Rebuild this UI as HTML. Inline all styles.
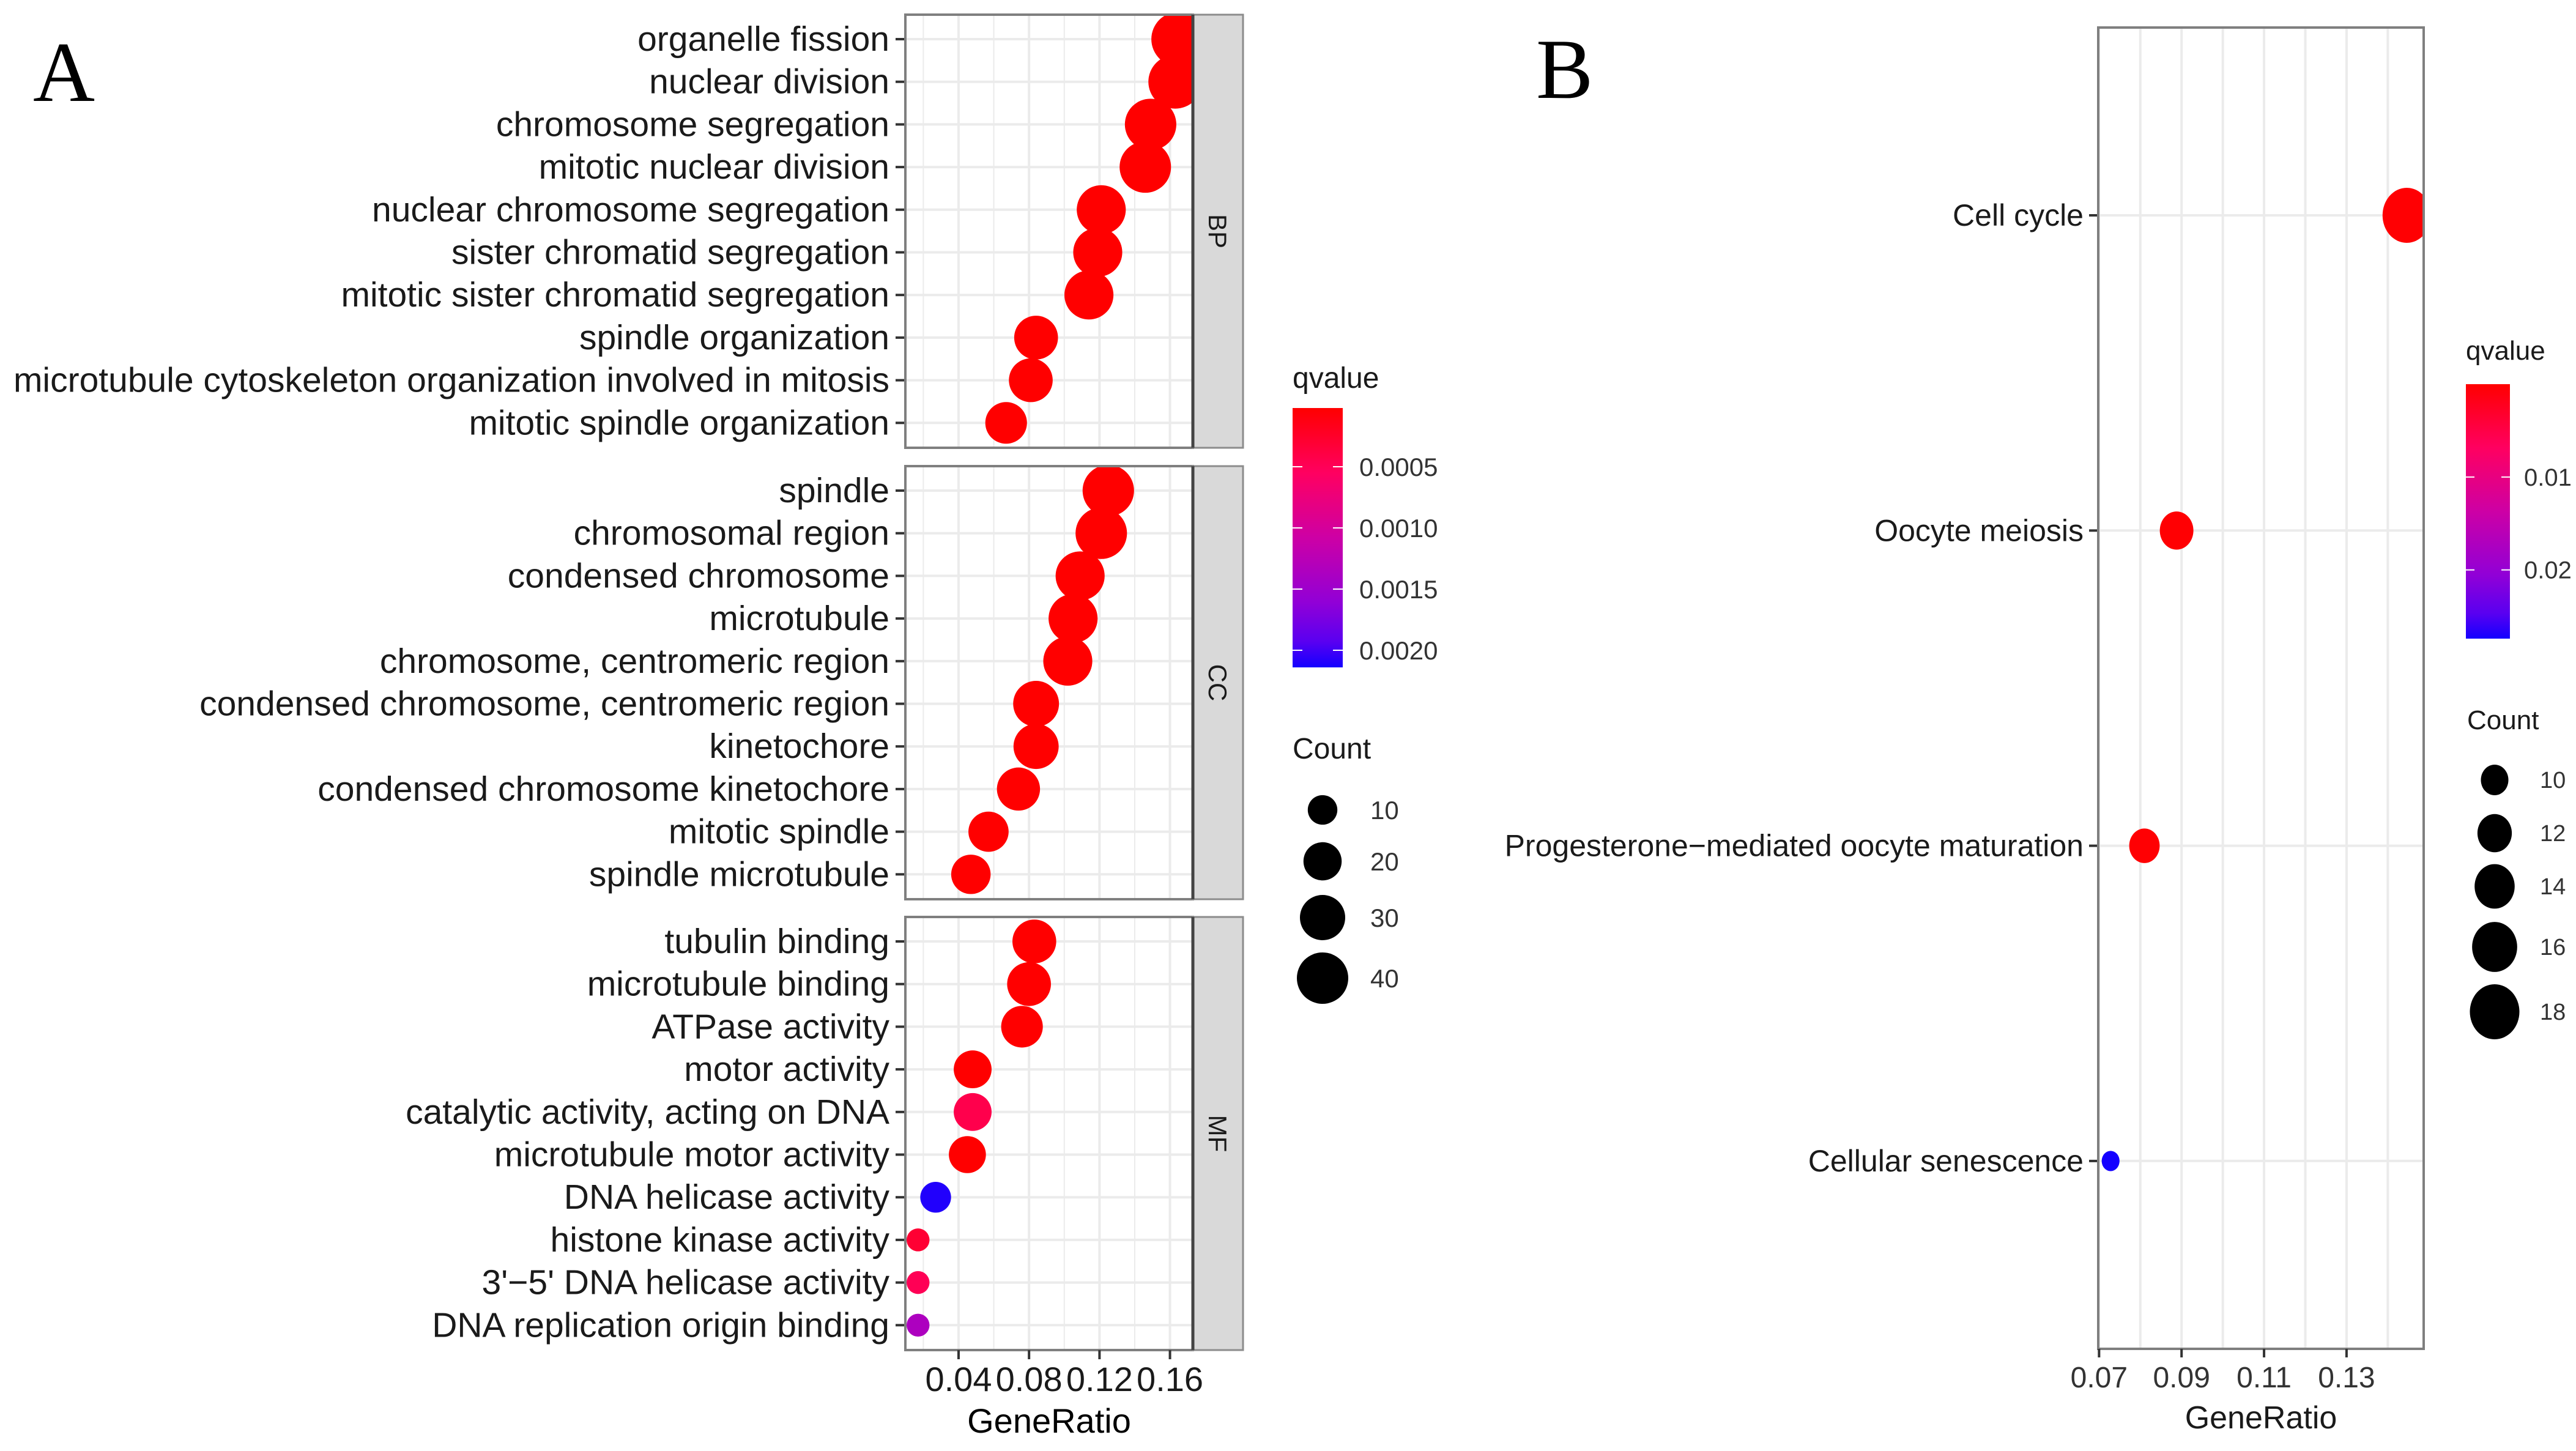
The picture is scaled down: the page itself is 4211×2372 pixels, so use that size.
<!DOCTYPE html>
<html><head><meta charset="utf-8"><style>
html,body{margin:0;padding:0;background:#fff;}
svg{display:block;font-family:"Liberation Sans",Arial,sans-serif;}
</style></head><body>
<svg id="chart" width="4211" height="2372" viewBox="0 0 4211 2372" xmlns="http://www.w3.org/2000/svg">
<defs>
<linearGradient id="gradA" x1="0" y1="0" x2="0" y2="1"></linearGradient>
<linearGradient id="gradB" x1="0" y1="0" x2="0" y2="1"></linearGradient>
</defs>
<text x="54" y="165" font-family="Liberation Serif,serif" font-size="140" fill="#000">A</text>
<text x="2511" y="160" font-family="Liberation Serif,serif" font-size="140" fill="#000">B</text>
<g id="gA"></g>
<g id="gB"></g>
</svg>
<script>
// ---------- Panel A data ----------
const bpTerms = ["organelle fission","nuclear division","chromosome segregation","mitotic nuclear division","nuclear chromosome segregation","sister chromatid segregation","mitotic sister chromatid segregation","spindle organization","microtubule cytoskeleton organization involved in mitosis","mitotic spindle organization"];
const bpRatio = [0.165,0.163,0.149,0.146,0.121,0.119,0.114,0.084,0.081,0.067];
const bpCount = [44,42,38,38,34,34,34,26,26,23];
const bpQ = [0.00002,0.00002,0.00002,0.00002,0.00002,0.00002,0.00002,0.00002,0.00002,0.00002];

const ccTerms = ["spindle","chromosomal region","condensed chromosome","microtubule","chromosome, centromeric region","condensed chromosome, centromeric region","kinetochore","condensed chromosome kinetochore","mitotic spindle","spindle microtubule"];
const ccRatio = [0.125,0.121,0.109,0.105,0.102,0.084,0.084,0.074,0.057,0.047];
const ccCount = [38,38,34,34,34,29,28,25,21,20];
const ccQ = [0.00002,0.00002,0.00002,0.00002,0.00002,0.00002,0.00002,0.00002,0.00002,0.00002];

const mfTerms = ["tubulin binding","microtubule binding","ATPase activity","motor activity","catalytic activity, acting on DNA","microtubule motor activity","DNA helicase activity","histone kinase activity","3'\u22125' DNA helicase activity","DNA replication origin binding"];
const mfRatio = [0.083,0.080,0.076,0.048,0.048,0.045,0.027,0.017,0.017,0.017];
const mfCount = [26,26,23,18,18,17,10,3,3,3];
const mfQ = [0.00002,0.00002,0.00002,0.00002,0.00044,0.00002,0.0021,0.0003,0.00049,0.00136];

const aXTicks = [0.04,0.08,0.12,0.16];
const aXTickLabels = ["0.04","0.08","0.12","0.16"];
const aQTicks = [0.0005,0.0010,0.0015,0.0020];
const aQTickLabels = ["0.0005","0.0010","0.0015","0.0020"];
const aCountLegend = [10,20,30,40];

// ---------- Panel B data ----------
const bTerms = ["Cell cycle","Oocyte meiosis","Progesterone\u2212mediated oocyte maturation","Cellular senescence"];
const bRatio = [0.1446,0.0888,0.081,0.0728];
const bCount = [18,12,11,8];
const bQ = [0.0002,0.0002,0.0002,0.0274];
const bXTicks = [0.07,0.09,0.11,0.13];
const bXTickLabels = ["0.07","0.09","0.11","0.13"];
const bQTicks = [0.01,0.02];
const bQTickLabels = ["0.01","0.02"];
const bCountLegend = [10,12,14,16,18];

const NS = "http://www.w3.org/2000/svg";
function mk(parent, tag, attrs, text){
  const e = document.createElementNS(NS, tag);
  for (const k in attrs) e.setAttribute(k, attrs[k]);
  if (text !== undefined) e.textContent = text;
  parent.appendChild(e);
  return e;
}
const cStops = [[0,255,0,0],[0.25,255,0,96],[0.5,205,0,165],[0.75,145,0,215],[0.9,90,0,240],[1,20,0,255]];
function qColor(t){
  t = Math.max(0, Math.min(1, t));
  for (let i=1;i<cStops.length;i++){
    const a = cStops[i-1], b = cStops[i];
    if (t <= b[0]){
      const f = (t - a[0])/(b[0]-a[0]);
      const r = Math.round(a[1]+(b[1]-a[1])*f), g = Math.round(a[2]+(b[2]-a[2])*f), bl = Math.round(a[3]+(b[3]-a[3])*f);
      return "rgb("+r+","+g+","+bl+")";
    }
  }
  return "rgb(20,0,255)";
}
function fillGrad(id){
  const g = document.getElementById(id);
  for (let i=0;i<=20;i++){
    mk(g,"stop",{offset:(i*5)+"%","stop-color":qColor(i/20)});
  }
}
fillGrad("gradA"); fillGrad("gradB");

// ---------- Panel A ----------
const gA = document.getElementById("gA");
const aX0 = 1480, aX1 = 1950, aDMin = 0.0098, aDMax = 0.173;
function ax(v){ return aX0 + (v - aDMin)/(aDMax - aDMin)*(aX1 - aX0); }
const aQMin = 0.00002, aQMax = 0.00214;
function aColor(q){ return qColor((q - aQMin)/(aQMax - aQMin)); }
function aR(c){ return Math.sqrt(229 + 40.5*c); }
const panels = [
  {name:"bp", strip:"BP", top:24, terms:bpTerms, ratio:bpRatio, count:bpCount, q:bpQ},
  {name:"cc", strip:"CC", top:762, terms:ccTerms, ratio:ccRatio, count:ccCount, q:ccQ},
  {name:"mf", strip:"MF", top:1499, terms:mfTerms, ratio:mfRatio, count:mfCount, q:mfQ}
];
const pH = 708, rowStep = 69.7, rowPad = 40;
panels.forEach(p => {
  const g = mk(gA,"g",{});
  
  
  mk(g,"rect",{x:aX0,y:p.top,width:aX1-aX0,height:pH,fill:"#fff"});
  for (let v=0.02; v<0.171; v+=0.02){
    const gl = mk(g,"line",{x1:ax(v),x2:ax(v),y1:p.top,y2:p.top+pH,stroke:"#ebebeb","stroke-width":(Math.round(v*100)%4===0)?4:2});
    
    
  }
  p.terms.forEach((t,i) => {
    const y = p.top + rowPad + i*rowStep;
    const hl = mk(g,"line",{x1:aX0,x2:aX1,y1:y,y2:y,stroke:"#ebebeb","stroke-width":4});
    
    
    const tk = mk(g,"line",{x1:aX0-16,x2:aX0,y1:y,y2:y,stroke:"#333","stroke-width":4});
    
    
    const lb = mk(g,"text",{x:aX0-26,y:y+19,"text-anchor":"end","font-size":57,fill:"#1a1a1a"},t);
    
    
  });
  const clipId = "clip-" + p.name;
  const cp = mk(g,"clipPath",{id:clipId});
  mk(cp,"rect",{x:aX0,y:p.top,width:aX1-aX0,height:pH});
  const dots = mk(g,"g",{"clip-path":"url(#"+clipId+")"});
  p.terms.forEach((t,i) => {
    const y = p.top + rowPad + i*rowStep;
    const c = mk(dots,"circle",{cx:ax(p.ratio[i]),cy:y,r:aR(p.count[i]),fill:aColor(p.q[i])});
    
    
  });
  mk(g,"rect",{x:aX0,y:p.top,width:aX1-aX0,height:pH,fill:"none",stroke:"#7f7f7f","stroke-width":4});
  const st = mk(g,"rect",{x:aX1,y:p.top,width:82,height:pH,fill:"#d9d9d9",stroke:"#8c8c8c","stroke-width":3});
  
  
  mk(g,"line",{x1:aX1,x2:aX1,y1:p.top,y2:p.top+pH,stroke:"#444","stroke-width":5});
  const cy = p.top + pH/2;
  const sl = mk(g,"text",{x:aX1+41,y:cy,"text-anchor":"middle","font-size":42,fill:"#1a1a1a",transform:"rotate(90 "+(aX1+41)+" "+cy+")",dy:15},p.strip);
  
  
});
aXTicks.forEach((v,i) => {
  const x = ax(v);
  const t = mk(gA,"line",{x1:x,x2:x,y1:2207,y2:2222,stroke:"#333","stroke-width":4});
  
  
  const l = mk(gA,"text",{x:x,y:2274,"text-anchor":"middle","font-size":56,fill:"#1a1a1a"},aXTickLabels[i]);
  
  
});
const axA = mk(gA,"text",{x:1715,y:2342,"text-anchor":"middle","font-size":56,fill:"#000"},"GeneRatio");


// legend A
const lgA = mk(gA,"g",{});


mk(lgA,"text",{x:2113,y:634,"font-size":48,fill:"#1a1a1a"},"qvalue");
const cbA0 = 667, cbA1 = 1091;
mk(lgA,"rect",{x:2113,y:cbA0,width:82,height:cbA1-cbA0,fill:"url(#gradA)"});
function aQy(q){ return cbA0 + (q - aQMin)/(aQMax - aQMin)*(cbA1 - cbA0); }
aQTicks.forEach((q,i) => {
  const y = aQy(q);
  mk(lgA,"line",{x1:2113,x2:2129,y1:y,y2:y,stroke:"#fff","stroke-width":2});
  mk(lgA,"line",{x1:2179,x2:2195,y1:y,y2:y,stroke:"#fff","stroke-width":2});
  mk(lgA,"text",{x:2222,y:y+15,"font-size":42,fill:"#333"},aQTickLabels[i]);
});
const lgA2 = mk(gA,"g",{});


mk(lgA2,"text",{x:2113,y:1240,"font-size":48,fill:"#1a1a1a"},"Count");
const aCountY = [1324,1408,1500,1599];
aCountLegend.forEach((c,i) => {
  mk(lgA2,"circle",{cx:2162,cy:aCountY[i],r:aR(c)-1,fill:"#000"});
  mk(lgA2,"text",{x:2240,y:aCountY[i]+15,"font-size":42,fill:"#333"},String(c));
});

// ---------- Panel B ----------
const gB = document.getElementById("gB");
const bX0 = 3430, bX1 = 3962, bDMin = 0.0698, bDMax = 0.1487;
function bx(v){ return bX0 + (v - bDMin)/(bDMax - bDMin)*(bX1 - bX0); }
const bTop = 45, bBot = 2205;
const bRowY0 = 352, bRowStep = 515.3;
const bQMin = 0, bQMax = 0.0274;
function bColor(q){ return qColor((q - bQMin)/(bQMax - bQMin)); }
function bRy(c){ return Math.sqrt(Math.max(50, 625 + 175*(c-10))); }
mk(gB,"rect",{x:bX0,y:bTop,width:bX1-bX0,height:bBot-bTop,fill:"#fff"});
for (let v=0.07; v<0.1486; v+=0.01){
  const gl = mk(gB,"line",{x1:bx(v),x2:bx(v),y1:bTop,y2:bBot,stroke:"#ebebeb","stroke-width":4});
  
  
}
const bClip = mk(gB,"clipPath",{id:"clipB"});
mk(bClip,"rect",{x:bX0,y:bTop,width:bX1-bX0,height:bBot-bTop});
const bDots = mk(gB,"g",{"clip-path":"url(#clipB)"});
bTerms.forEach((t,i) => {
  const y = bRowY0 + i*bRowStep;
  const hl = mk(gB,"line",{x1:bX0,x2:bX1,y1:y,y2:y,stroke:"#ebebeb","stroke-width":4});
  
  
  const tk = mk(gB,"line",{x1:bX0-15,x2:bX0,y1:y,y2:y,stroke:"#333","stroke-width":4});
  
  
  const lb = mk(gB,"text",{x:bX0-24,y:y+17,"text-anchor":"end","font-size":50,fill:"#1a1a1a"},t);
  
  
});
gB.appendChild(bDots);
bTerms.forEach((t,i) => {
  const y = bRowY0 + i*bRowStep;
  const ry = bRy(bCount[i]);
  const e = mk(bDots,"ellipse",{cx:bx(bRatio[i]),cy:y,rx:ry*0.88,ry:ry,fill:bColor(bQ[i])});
  
  
});
mk(gB,"rect",{x:bX0,y:bTop,width:bX1-bX0,height:bBot-bTop,fill:"none",stroke:"#7f7f7f","stroke-width":4});
bXTicks.forEach((v,i) => {
  const x = bx(v);
  const t = mk(gB,"line",{x1:x,x2:x,y1:bBot,y2:bBot+14,stroke:"#333","stroke-width":4});
  
  
  const l = mk(gB,"text",{x:x,y:2268,"text-anchor":"middle","font-size":48,fill:"#333"},bXTickLabels[i]);
  
  
});
const axB = mk(gB,"text",{x:3696,y:2335,"text-anchor":"middle","font-size":52,fill:"#1a1a1a"},"GeneRatio");


const lgB = mk(gB,"g",{});


mk(lgB,"text",{x:4031,y:588,"font-size":44,fill:"#1a1a1a"},"qvalue");
const cbB0 = 628, cbB1 = 1044;
mk(lgB,"rect",{x:4031,y:cbB0,width:72,height:cbB1-cbB0,fill:"url(#gradB)"});
function bQy(q){ return cbB0 + (q - bQMin)/(bQMax - bQMin)*(cbB1 - cbB0); }
bQTicks.forEach((q,i) => {
  const y = bQy(q);
  mk(lgB,"line",{x1:4031,x2:4045,y1:y,y2:y,stroke:"#fff","stroke-width":2});
  mk(lgB,"line",{x1:4089,x2:4103,y1:y,y2:y,stroke:"#fff","stroke-width":2});
  mk(lgB,"text",{x:4126,y:y+14,"font-size":40,fill:"#333"},bQTickLabels[i]);
});
const lgB2 = mk(gB,"g",{});


mk(lgB2,"text",{x:4033,y:1192,"font-size":44,fill:"#1a1a1a"},"Count");
const bCountY = [1275,1362,1449,1548,1654];
bCountLegend.forEach((c,i) => {
  const ry = bRy(c);
  mk(lgB2,"ellipse",{cx:4078,cy:bCountY[i],rx:ry*0.9,ry:ry,fill:"#000"});
  mk(lgB2,"text",{x:4152,y:bCountY[i]+13,"font-size":38,fill:"#333"},String(c));
});
</script>
</body></html>
